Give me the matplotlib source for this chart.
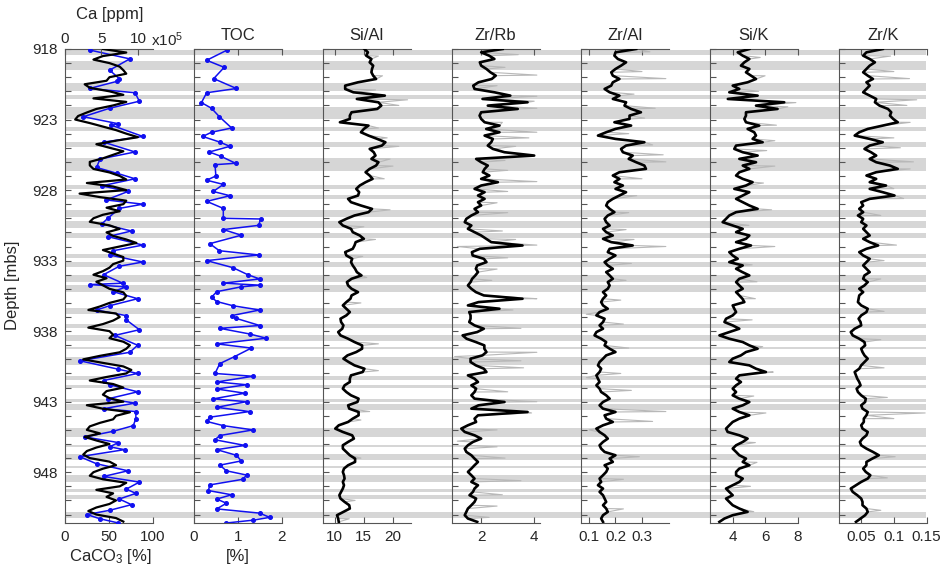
import numpy as np
import matplotlib
matplotlib.use('agg')
import matplotlib.pyplot as plt
from matplotlib.ticker import MultipleLocator

plt.rcParams['font.family'] = ['Liberation Sans', 'DejaVu Sans']
plt.rcParams['mathtext.fontset'] = 'custom'
plt.rcParams['mathtext.rm'] = 'Liberation Sans'
plt.rcParams['mathtext.it'] = 'Liberation Sans'

# ---- gray bands (depth ranges, m) ----
band_top = [918.07, 918.83, 920.44, 921.27, 922.09, 923.51, 924.58, 925.71, 927.63, 928.33,
            929.40, 930.20, 931.05, 932.50, 933.11, 934.01, 934.74, 936.37, 937.51, 938.26,
            939.09, 939.80, 941.15, 941.83, 942.78, 943.18, 944.88, 946.04, 946.70, 947.53,
            948.22, 949.18, 949.59, 950.84]
band_bot = [918.43, 919.49, 920.96, 921.53, 922.97, 923.82, 924.95, 926.66, 927.89, 928.64,
            929.89, 930.68, 931.43, 932.80, 933.44, 934.50, 935.21, 936.82, 937.77, 938.71,
            939.30, 940.39, 941.43, 942.05, 942.99, 943.56, 945.50, 946.23, 947.15, 947.72,
            948.69, 949.42, 949.92, 951.22]

# ---- Ca XRF counts (x10^5 ppm), 0.25 m steps from 918.0 ----
ca = [5.2, 8.4, 5.2, 3.9, 6.1, 7.5, 8.0, 8.4, 6.1, 5.7, 2.7, 3.4, 6.1, 8.0, 3.9, 8.4, 6.6, 4.3, 3.0, 1.8,
      1.4, 3.4, 5.2, 7.0, 8.4, 10.0, 7.0, 4.3, 6.1, 8.0, 6.6, 5.2, 3.4, 3.4, 3.9, 6.1, 7.5, 8.4, 3.0, 6.6,
      8.4, 2.0, 4.8, 8.4, 8.0, 5.7, 7.5, 5.2, 3.9, 3.4, 6.1, 7.5, 5.7, 6.6, 8.4, 9.8, 7.5, 5.2, 6.6, 8.0,
      8.0, 6.6, 6.1, 5.2, 3.9, 5.7, 4.3, 5.2,
      6.1, 8.0, 8.4, 8.0, 6.1, 4.8, 3.2, 7.0, 7.5, 6.6, 5.2, 3.2, 6.1, 6.6, 6.1, 8.0, 8.9, 8.4, 7.5, 4.8,
      2.5, 5.2, 8.0, 9.1, 8.4, 5.7, 3.4, 6.6, 8.0, 5.7, 5.2, 6.1, 8.0, 3.0, 5.2, 8.9, 7.0, 6.6, 4.8, 3.4,
      3.0, 4.8, 2.7, 4.3, 6.1, 4.3, 3.0, 2.5, 3.4, 6.1, 7.0, 5.2, 3.9, 3.4, 5.2, 8.4, 7.5, 4.3, 6.6, 5.7,
      7.0, 6.1, 4.3, 3.2, 4.3, 7.0, 8.0]

# ---- CaCO3 [%] discrete samples ----
caco3_depth = [918.07, 918.7, 919.5, 920.1, 920.3, 920.8, 921.1, 921.7, 922.2, 922.8, 923.3, 923.4,
               924.2, 924.6, 925.3, 925.8, 926.4, 926.8, 927.2, 927.7, 928.1, 928.7, 929.0, 929.3,
               930.0, 930.4, 930.9, 931.3, 931.9, 932.3, 932.6, 933.1, 933.4, 934.0, 934.6, 934.7,
               934.86, 935.2, 935.7, 936.2, 936.5, 936.9, 937.2, 937.9, 938.3, 939.0, 939.5, 940.1,
               940.7, 941.0, 941.5, 941.8, 942.3, 942.8, 943.1, 943.5, 943.7, 944.2, 944.7, 945.1,
               945.5, 945.9, 946.2, 946.4, 946.9, 947.4, 947.9, 948.3, 948.7, 949.2, 949.5, 949.9,
               950.3, 950.7, 951.0, 951.3, 951.6]
caco3 = [28, 74, 51, 62, 59, 28, 80, 85, 51, 21, 61, 53,
         89, 44, 80, 40, 36, 59, 80, 42, 72, 47, 89, 62,
         49, 42, 76, 49, 89, 55, 51, 89, 62, 44, 66, 28,
         70, 55, 83, 51, 36, 70, 70, 85, 57, 83, 74, 17,
         61, 83, 44, 51, 83, 49, 80, 44, 81, 81, 78, 55,
         23, 61, 51, 68, 17, 36, 72, 44, 85, 70, 81, 62,
         76, 51, 25, 40, 61]

# ---- TOC [%] ----
toc_depth = [918.07, 918.8, 919.3, 920.1, 920.8, 921.1, 921.8, 922.2, 922.8, 923.6, 923.9, 924.2,
             924.6, 924.9, 925.3, 925.6, 926.1, 926.2, 927.0, 927.3, 927.6, 928.1, 928.4, 928.8,
             929.3, 930.0, 930.05, 930.5, 930.8, 931.2, 931.8, 932.3, 932.6, 933.0, 933.5, 934.0,
             934.3, 934.6, 934.74, 934.86, 935.2, 935.6, 935.9, 936.2, 936.5, 936.9, 937.1, 937.6,
             937.8, 938.2, 938.5, 938.9, 939.2, 939.8, 940.3, 941.0, 941.2, 941.6, 941.8, 942.1,
             942.4, 942.8, 943.0, 943.4, 943.7, 944.1, 944.4, 944.7, 945.0, 945.4, 945.7, 946.1,
             946.4, 946.8, 947.2, 947.5, 947.9, 948.2, 948.5, 948.9, 949.3, 949.6, 949.9, 950.2,
             950.6, 950.9, 951.2, 951.4, 951.6]
toc = [0.76, 0.29, 0.69, 0.45, 0.97, 0.29, 0.17, 0.40, 0.58, 0.86, 0.40, 0.20,
       0.59, 0.82, 0.35, 0.61, 0.95, 0.48, 0.50, 0.29, 0.67, 0.44, 0.82, 0.29,
       0.67, 0.67, 1.52, 1.48, 0.67, 1.08, 0.36, 0.58, 1.48, 0.29, 0.89, 1.23,
       1.50, 0.67, 1.50, 1.08, 0.52, 0.40, 0.52, 0.89, 1.50, 0.86, 0.97, 1.50,
       0.59, 1.27, 1.65, 0.52, 1.31, 0.93, 0.59, 0.48, 1.35, 0.52, 1.20, 0.52,
       1.16, 0.44, 1.20, 0.52, 1.27, 0.36, 0.29, 0.67, 1.35, 0.59, 0.48, 1.16,
       0.52, 0.97, 1.08, 0.59, 0.74, 1.20, 1.12, 0.36, 0.33, 0.86, 0.52, 0.74,
       0.52, 1.50, 1.73, 1.35, 0.74]

# ---- XRF ratios, smoothed (black), ~0.236 m steps from 918.0 to 951.52 ----
si_al = [15.1, 15.7, 15.4, 16.3, 16.0, 16.6, 16.4, 16.3, 16.6, 17.1, 14.0, 11.8, 11.8, 13.2, 18.6, 13.8,
         17.5, 18.0, 17.3, 12.9, 12.6, 12.6, 10.9, 15.8, 15.0, 14.5, 15.8, 17.3, 18.7, 18.1, 16.0, 16.7,
         17.0, 16.3, 17.5, 17.1, 16.0, 15.3, 16.0, 16.5, 15.3, 14.3, 13.7, 14.2, 14.0, 12.3, 12.8, 14.5,
         16.4, 15.8, 13.4, 12.0, 10.8, 11.4, 12.8, 13.1, 14.3, 15.0, 13.6, 13.4, 13.1, 11.8, 12.0, 13.0,
         12.8, 13.1, 13.5, 13.8, 14.6, 12.9, 12.1,
         12.3, 12.9, 14.0, 12.9, 12.7, 12.0, 11.4, 12.0, 12.6, 12.0, 11.0, 11.1, 11.5, 11.3, 10.6, 11.0,
         12.3, 13.4, 14.7, 14.7, 13.7, 12.2, 11.5, 12.4, 13.4, 15.1, 14.8, 12.8, 12.6, 12.6, 11.7, 11.4,
         12.0, 12.8, 14.1, 13.9, 12.3, 12.5, 14.1, 14.1, 13.1, 12.3, 10.7, 10.1, 11.4, 13.0, 13.3, 12.3,
         11.4, 11.4, 12.0, 12.6, 13.5, 13.5, 12.3, 11.6, 11.4, 11.6, 11.7, 11.4, 11.6, 11.4, 11.1, 10.8,
         11.0, 11.7, 12.5, 12.6, 11.5, 10.4, 10.6, 10.7]
zr_rb = [2.81, 2.0, 2.3, 2.5, 1.95, 2.0, 2.2, 2.35, 2.55, 2.4, 1.9, 1.7, 1.75, 2.5, 3.1, 2.05,
         3.75, 2.25, 3.38, 2.0, 1.94, 2.0, 2.13, 2.69, 2.19, 2.69, 2.13, 2.44, 2.38, 2.25, 2.44, 2.88,
         4.0, 1.81, 2.0, 2.25, 2.13, 2.06, 2.31, 2.0, 2.63, 2.0, 1.75, 2.13, 1.88, 2.13, 1.88, 2.0,
         1.75, 1.88, 1.63, 1.44, 1.38, 1.63, 1.5, 1.75, 2.0, 2.19, 2.38, 3.56, 1.95, 1.65, 1.68, 2.1,
         2.2, 1.85, 1.8, 1.88, 1.78, 1.66, 1.6,
         1.5, 1.63, 1.8, 2.1, 3.56, 1.9, 1.5, 2.69, 1.55, 1.6, 1.6, 1.55, 1.75, 2.1, 1.85, 1.3,
         1.45, 1.8, 2.12, 2.12, 2.2, 2.05, 1.6, 1.6, 1.8, 2.1, 2.2, 1.5, 1.75, 1.88, 1.63, 1.81,
         1.75, 1.63, 1.75, 2.88, 1.9, 1.63, 3.75, 1.88, 1.75, 1.81, 1.5, 1.25, 1.38, 1.75, 2.0, 1.69,
         1.5, 1.38, 1.44, 1.63, 1.75, 1.88, 1.75, 1.63, 1.5, 1.63, 1.75, 1.63, 1.88, 1.75, 1.69, 1.56,
         1.81, 1.75, 1.63, 1.5, 1.44, 1.38, 1.5, 1.85]
zr_al = [0.278, 0.2, 0.196, 0.209, 0.24, 0.221, 0.2, 0.184, 0.19, 0.215, 0.19, 0.184, 0.159, 0.178,
         0.215, 0.19, 0.24, 0.234, 0.259, 0.296, 0.253, 0.253, 0.196, 0.259, 0.2, 0.165, 0.134, 0.2,
         0.309, 0.24, 0.221, 0.228, 0.265, 0.25, 0.278, 0.309, 0.315, 0.215, 0.19, 0.215, 0.196, 0.228,
         0.2, 0.24, 0.215, 0.19, 0.171, 0.165, 0.178, 0.196, 0.171, 0.159, 0.165, 0.178, 0.153, 0.165,
         0.19, 0.153, 0.184, 0.265, 0.178, 0.171, 0.2, 0.178, 0.159, 0.171, 0.19, 0.165, 0.178, 0.19,
         0.171,
         0.178, 0.171, 0.153, 0.165, 0.153, 0.146, 0.153, 0.171, 0.14, 0.128, 0.159, 0.153, 0.14, 0.153,
         0.128, 0.121, 0.146, 0.165, 0.159, 0.178, 0.2, 0.165, 0.153, 0.14, 0.134, 0.146, 0.14, 0.128,
         0.134, 0.14, 0.128, 0.14, 0.146, 0.165, 0.178, 0.153, 0.14, 0.153, 0.2, 0.159, 0.165, 0.19,
         0.153, 0.128, 0.14, 0.159, 0.171, 0.153, 0.14, 0.146, 0.159, 0.2, 0.178, 0.19, 0.159, 0.171,
         0.165, 0.153, 0.14, 0.146, 0.134, 0.153, 0.14, 0.153, 0.159, 0.165, 0.153, 0.165, 0.171, 0.153,
         0.146, 0.153]
si_k = [5.03, 4.31, 4.62, 5.03, 4.72, 4.51, 5.03, 4.82, 5.13, 5.44, 4.92, 4.0, 4.41, 3.79, 5.54, 3.7,
        7.18, 5.44, 6.77, 4.82, 4.82, 4.72, 4.82, 5.64, 4.92, 5.33, 5.44, 5.23, 5.85, 4.21, 4.1, 4.62,
        5.54, 4.41, 5.44, 4.62, 5.03, 4.41, 4.21, 4.62, 5.23, 4.82, 4.1, 5.03, 4.62, 4.21, 4.62, 5.03,
        5.54, 4.21, 3.79, 3.59, 3.38, 4.0, 4.62, 4.21, 5.03, 4.82, 4.21, 5.13, 4.41, 3.79, 4.0, 4.31,
        3.79, 4.62, 4.21, 4.6, 5.03, 4.41, 4.21,
        4.41, 4.62, 4.21, 4.41, 4.6, 4.72, 4.0, 4.1, 4.21, 4.0, 3.59, 3.49, 4.0, 4.41, 3.79, 3.18,
        3.79, 4.62, 5.03, 5.54, 4.82, 4.51, 4.0, 3.79, 5.03, 5.44, 6.05, 4.41, 4.21, 4.51, 4.21, 4.0,
        4.21, 4.0, 4.41, 5.03, 4.62, 4.0, 4.41, 5.03, 4.41, 4.0, 3.79, 3.59, 3.69, 4.41, 4.92, 4.62,
        4.21, 4.0, 4.21, 4.41, 4.82, 4.62, 5.03, 4.41, 4.21, 4.21, 4.62, 4.41, 4.0, 3.59, 3.79, 4.0,
        3.59, 3.79, 4.0, 4.41, 4.92, 4.0, 3.49, 3.18]
zr_k = [0.083, 0.058, 0.053, 0.063, 0.071, 0.063, 0.058, 0.053, 0.060, 0.068, 0.058, 0.063, 0.058,
        0.053, 0.063, 0.073, 0.071, 0.078, 0.091, 0.096, 0.094, 0.099, 0.106, 0.083, 0.060, 0.047,
        0.040, 0.063, 0.083, 0.063, 0.055, 0.065, 0.073, 0.063, 0.073, 0.094, 0.106, 0.073, 0.058,
        0.073, 0.063, 0.088, 0.063, 0.083, 0.101, 0.063, 0.050, 0.053, 0.047, 0.053, 0.045, 0.053,
        0.050, 0.058, 0.053, 0.058, 0.063, 0.053, 0.063, 0.076, 0.058, 0.047, 0.053, 0.063, 0.058,
        0.053, 0.058, 0.063, 0.055, 0.053, 0.060,
        0.055, 0.047, 0.053, 0.047, 0.046, 0.045, 0.050, 0.060, 0.058, 0.050, 0.046, 0.049, 0.050,
        0.040, 0.034, 0.037, 0.047, 0.055, 0.056, 0.050, 0.052, 0.055, 0.060, 0.055, 0.050, 0.047,
        0.040, 0.042, 0.044, 0.047, 0.049, 0.043, 0.045, 0.050, 0.057, 0.056, 0.050, 0.052, 0.060,
        0.058, 0.054, 0.054, 0.050, 0.052, 0.060, 0.058, 0.052, 0.048, 0.050, 0.058, 0.068, 0.077,
        0.067, 0.058, 0.058, 0.053, 0.057, 0.064, 0.060, 0.050, 0.042, 0.034, 0.037, 0.044, 0.050,
        0.052, 0.052, 0.058, 0.060, 0.056, 0.049, 0.042]

# ---- raw-data excursions (gray), (depth, value) ----
si_al_raw = [(918.5, 17.5), (919.9, 18.2), (920.9, 17.0), (921.6, 22.5), (922.0, 21.0), (923.6, 17.5),
             (924.3, 19.0), (924.9, 21.0), (925.8, 19.5), (926.3, 20.0), (927.2, 18.5), (929.4, 19.5),
             (930.6, 15.0), (931.5, 17.0), (932.7, 14.8), (934.2, 15.5), (936.0, 14.5), (938.9, 17.5),
             (940.8, 17.5), (943.7, 16.0), (944.3, 14.5), (947.0, 14.5), (950.0, 13.5), (951.3, 12.5)]
zr_rb_raw = [(918.4, 3.4), (919.3, 2.9), (919.85, 4.1), (920.6, 2.6), (921.35, 4.1), (921.7, 4.0),
             (922.2, 4.1), (923.2, 2.8), (923.9, 4.1), (924.3, 3.8), (924.9, 3.3), (925.9, 2.9),
             (926.6, 3.0), (927.4, 4.1), (928.1, 3.0), (928.9, 2.6), (929.6, 3.0), (930.9, 2.8),
             (931.5, 3.3), (931.9, 4.1), (932.0, 1.1), (932.8, 3.0), (933.6, 2.6), (934.4, 2.4),
             (935.7, 4.1), (936.5, 3.2), (937.8, 3.5), (939.5, 4.1), (939.8, 1.0), (940.1, 3.5),
             (940.6, 3.6), (942.3, 3.0), (943.0, 4.1), (943.8, 3.9), (945.0, 2.6), (945.8, 1.1),
             (946.2, 2.6), (947.0, 2.9), (948.6, 3.5), (949.6, 2.8), (950.4, 2.6), (951.2, 2.3)]
zr_al_raw = [(918.2, 0.33), (919.6, 0.30), (920.1, 0.39), (921.2, 0.27), (922.2, 0.35), (922.9, 0.31),
             (924.0, 0.25), (924.8, 0.34), (925.5, 0.38), (926.0, 0.39), (927.2, 0.30), (928.4, 0.28),
             (929.6, 0.25), (930.8, 0.24), (931.5, 0.27), (932.0, 0.39), (933.2, 0.26), (934.4, 0.24),
             (935.8, 0.22), (936.8, 0.09), (937.5, 0.23), (939.2, 0.25), (941.0, 0.22), (941.3, 0.09),
             (942.2, 0.26), (943.7, 0.39), (944.4, 0.34), (945.0, 0.10), (946.9, 0.29), (948.5, 0.23),
             (950.6, 0.23)]
si_k_raw = [(918.6, 5.7), (919.9, 6.0), (921.0, 5.6), (921.8, 7.9), (922.1, 7.4), (923.4, 6.7),
            (924.5, 6.6), (925.2, 6.1), (926.3, 6.6), (927.5, 5.9), (929.4, 6.4), (930.5, 5.0),
            (932.0, 6.6), (933.3, 5.2), (934.5, 5.5), (935.7, 5.4), (937.2, 5.2), (939.1, 5.85),
            (940.9, 6.5), (942.6, 5.3), (943.8, 6.05), (945.9, 5.4), (947.3, 5.5), (949.0, 5.1),
            (950.8, 5.3)]
zr_k_raw = [(918.5, 0.095), (919.6, 0.10), (920.1, 0.124), (921.6, 0.135), (922.0, 0.12), (923.2, 0.125),
            (924.3, 0.10), (925.0, 0.11), (926.0, 0.13), (926.5, 0.125), (927.9, 0.10), (928.6, 0.115),
            (929.8, 0.08), (931.9, 0.104), (933.0, 0.085), (934.3, 0.08), (936.6, 0.085), (938.6, 0.08),
            (940.6, 0.085), (942.7, 0.09), (943.8, 0.148), (944.2, 0.10), (946.9, 0.102), (948.4, 0.09),
            (950.7, 0.08)]

panels = [
    ('Si/Al', si_al, si_al_raw, (8, 23), [10, 15, 20], ['10', '15', '20']),
    ('Zr/Rb', zr_rb, zr_rb_raw, (0.9, 4.2), [2, 4], ['2', '4']),
    ('Zr/Al', zr_al, zr_al_raw, (0.07, 0.40), [0.1, 0.2, 0.3], ['0.1', '0.2', '0.3']),
    ('Si/K', si_k, si_k_raw, (2.6, 8.0), [4, 6, 8], ['4', '6', '8']),
    ('Zr/K', zr_k, zr_k_raw, (0.016, 0.15), [0.05, 0.1, 0.15], ['0.05', '0.1', '0.15']),
]

W, H = 941.0, 574.0
ytop, ybot = 918.0, 951.6
bot = (H - 523) / H
hgt = (523 - 49) / H
lefts = [65, 194, 323, 452, 581, 710, 839]
pw = 87.5
spine_c = '#555555'
text_c = '#262626'

fig = plt.figure(figsize=(W / 100, H / 100), dpi=100)

bg = fig.add_axes([65 / W, bot, (926 - 65) / W, hgt], zorder=0)
bg.set_ylim(ybot, ytop)
for d0, d1 in zip(band_top, band_bot):
    bg.axhspan(d0, d1, color='#d6d6d6', lw=0)
bg.axis('off')


def style(ax, top=True):
    ax.patch.set_alpha(0)
    ax.set_ylim(ybot, ytop)
    ax.spines['right'].set_visible(False)
    for s in ('left', 'top', 'bottom'):
        ax.spines[s].set_color(spine_c)
        ax.spines[s].set_linewidth(0.8)
    ax.yaxis.set_minor_locator(MultipleLocator(1))
    ax.set_yticks(np.arange(918, 952, 5))
    ax.tick_params(which='both', direction='in', length=4, width=0.8, color=spine_c,
                   labelcolor=text_c, labelsize=11, top=top, right=False, pad=5)


axes = []
for i, x0 in enumerate(lefts):
    ax = fig.add_axes([x0 / W, bot, pw / W, hgt], zorder=2)
    style(ax, top=(i != 0))
    if i != 0:
        ax.set_yticklabels([])
    axes.append(ax)

# panel 1: Ca (top axis) and CaCO3 (bottom axis)
ax1 = axes[0]
ax1.set_xlim(0, 100)
ax1.set_xticks([0, 50, 100])
ax1.plot(caco3, caco3_depth, color='#1010f0', lw=1.1, marker='o', ms=2.6, zorder=3)
ax_ca = ax1.twiny()
ax_ca.patch.set_alpha(0)
ax_ca.set_xlim(0, 12)
ax_ca.set_xticks([0, 5, 10])
ax_ca.set_ylim(ybot, ytop)
for s in ax_ca.spines.values():
    s.set_visible(False)
ax_ca.tick_params(direction='in', length=4, width=0.8, color=spine_c, labelcolor=text_c,
                  labelsize=11, pad=2)
ca_depth = np.linspace(918.0, 951.5, len(ca))
ax_ca.plot(ca, ca_depth, color='black', lw=1.6, zorder=2)

# panel 2: TOC
ax2 = axes[1]
ax2.set_xlim(0, 2)
ax2.set_xticks([0, 1, 2])
ax2.plot(toc, toc_depth, color='#1010f0', lw=1.1, marker='o', ms=2.6)

# XRF ratio panels
for ax, (name, vals, spikes, xl, ticks, labels) in zip(axes[2:], panels):
    depth = np.linspace(918.0, 951.52, len(vals))
    pts = sorted(list(zip(depth, vals)) + spikes)
    rd, rv = zip(*pts)
    ax.plot(rv, rd, color='#b8b8b8', lw=0.8, zorder=2)
    ax.plot(vals, depth, color='black', lw=1.9, zorder=3)
    ax.set_xlim(*xl)
    ax.set_xticks(ticks)
    ax.set_xticklabels(labels)

# texts
fs = 12
fig.text(13 / W, 1 - 285 / H, 'Depth [mbs]', rotation=90, ha='center', va='center',
         fontsize=fs, color=text_c)
fig.text(110 / W, 1 - 14 / H, 'Ca [ppm]', ha='center', va='center', fontsize=fs, color=text_c)
fig.text(151 / W, 1 - 40 / H, r'x10$^5$', ha='left', va='center', fontsize=11, color=text_c)
for x0, name in zip(lefts[1:], ['TOC', 'Si/Al', 'Zr/Rb', 'Zr/Al', 'Si/K', 'Zr/K']):
    fig.text((x0 + pw / 2) / W, 1 - 35 / H, name, ha='center', va='center', fontsize=fs,
             color=text_c)
fig.text(110 / W, 1 - 557 / H, r'CaCO$_3$ [%]', ha='center', va='center', fontsize=fs,
         color=text_c)
fig.text((194 + pw / 2) / W, 1 - 557 / H, '[%]', ha='center', va='center', fontsize=fs,
         color=text_c)

fig.savefig('out.png', dpi=100)
